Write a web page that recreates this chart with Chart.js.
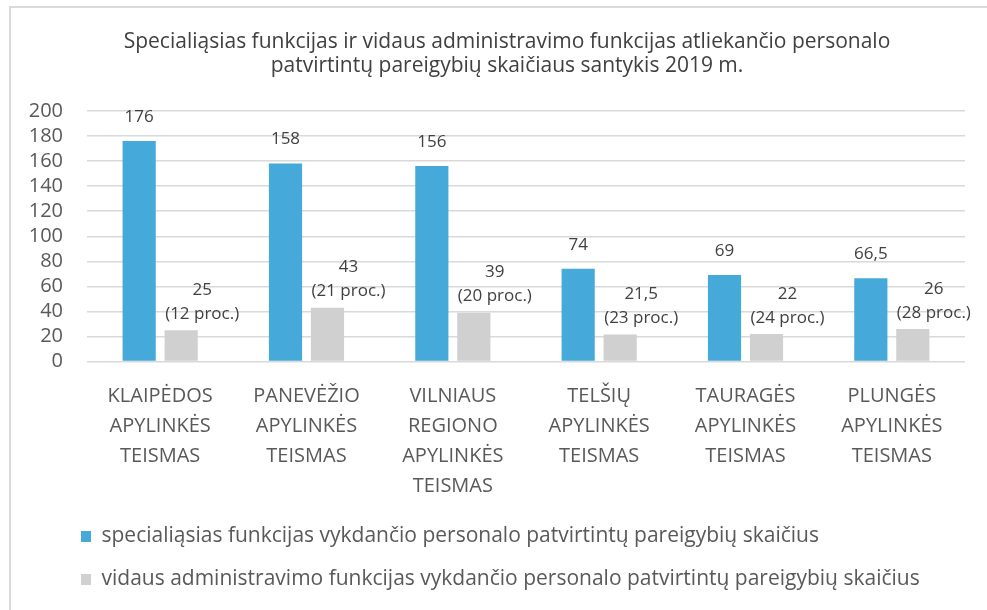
<!DOCTYPE html>
<html>
<head>
<meta charset="utf-8">
<script src="https://cdn.jsdelivr.net/npm/chart.js@4.4.1/dist/chart.umd.min.js"></script>
<style>
    body { margin: 0; background: #ffffff; }
    #wrap { position: relative; width: 987px; height: 610px; overflow: hidden; }
    #frame {
        position: absolute; left: 9px; top: 6px; width: 1000px; height: 700px;
        border-left: 2px solid #d9d9d9; border-top: 2px solid #d9d9d9;
    }
    #chart { position: absolute; left: 0; top: 0; }
</style>
</head>
<body>
<div id="wrap">
    <div id="frame"></div>
    <canvas id="chart" width="987" height="610"></canvas>
</div>
<script>
const courts = [
    ["KLAIPĖDOS", "APYLINKĖS", "TEISMAS"],
    ["PANEVĖŽIO", "APYLINKĖS", "TEISMAS"],
    ["VILNIAUS", "REGIONO", "APYLINKĖS", "TEISMAS"],
    ["TELŠIŲ", "APYLINKĖS", "TEISMAS"],
    ["TAURAGĖS", "APYLINKĖS", "TEISMAS"],
    ["PLUNGĖS", "APYLINKĖS", "TEISMAS"]
];
const specialValues = [176, 158, 156, 74, 69, 66.5];
const adminValues   = [25, 43, 39, 21.5, 22, 26];
const adminShare    = [12, 21, 20, 23, 24, 28];

const titleLines = [
    "Specialiąsias funkcijas ir vidaus administravimo funkcijas atliekančio personalo",
    "patvirtintų pareigybių skaičiaus santykis 2019 m."
];
const seriesNames = [
    "specialiąsias funkcijas vykdančio personalo patvirtintų pareigybių skaičius",
    "vidaus administravimo funkcijas vykdančio personalo patvirtintų pareigybių skaičius"
];

const fontName  = "'Open Sans'";
const textColor = "#595959";

// numbers with a comma, like in the original
function fmt(v)
{
    return String(v).replace(".", ",");
}

const valueLabels = {
    id: "valueLabels",
    afterDatasetsDraw(chart)
    {
        const ctx = chart.ctx;
        ctx.save();
        ctx.fillStyle = "#404040";
        ctx.textAlign = "center";
        ctx.textBaseline = "middle";
        ctx.font = "17px " + fontName;

        chart.getDatasetMeta(0).data.forEach((bar, i) => {
            ctx.fillText(fmt(specialValues[i]), bar.x, bar.y - 24);
        });

        chart.getDatasetMeta(1).data.forEach((bar, i) => {
            ctx.fillText(fmt(adminValues[i]), bar.x + 21, bar.y - 40);
            ctx.fillText("(" + adminShare[i] + " proc.)", bar.x + 21, bar.y - 16);
        });
        ctx.restore();
    }
};

// move the legend and title a bit so they sit like in the picture
const boxShift = {
    id: "boxShift",
    afterLayout(chart)
    {
        chart.legend.left = 59;
        chart.legend.right = 987;
        chart.titleBlock.left = 49;
        chart.titleBlock.right = 965;
    }
};

new Chart(document.getElementById("chart"), {
    type: "bar",
    data: {
        labels: courts,
        datasets: [
            {
                label: seriesNames[0],
                data: specialValues,
                backgroundColor: "#45a9da"
            },
            {
                label: seriesNames[1],
                data: adminValues,
                backgroundColor: "#d0d0d0"
            }
        ]
    },
    options: {
        responsive: false,
        animation: false,
        categoryPercentage: 0.574,
        barPercentage: 0.79,
        layout: {
            padding: { left: 28, right: 22, top: 0, bottom: 10 }
        },
        plugins: {
            title: {
                display: true,
                text: titleLines,
                color: "#404040",
                font: { family: fontName, size: 21, weight: "normal", lineHeight: "24px" },
                padding: { top: 30, bottom: 33 }
            },
            legend: {
                position: "bottom",
                align: "start",
                labels: {
                    color: textColor,
                    boxWidth: 10,
                    boxHeight: 11,
                    padding: 22,
                    font: { family: fontName, size: 21 }
                }
            },
            tooltip: { enabled: false }
        },
        scales: {
            x: {
                grid: { display: false },
                border: { display: false },
                ticks: {
                    color: textColor,
                    autoSkip: false,
                    maxRotation: 0,
                    padding: 12,
                    font: { family: fontName, size: 20, lineHeight: "30px" }
                },
                afterFit(scale) { scale.height = 142.5; }
            },
            y: {
                min: 0,
                max: 200,
                border: { display: false },
                grid: { color: "#d9d9d9", lineWidth: 1.5, drawTicks: false },
                ticks: {
                    stepSize: 20,
                    autoSkip: false,
                    color: textColor,
                    padding: 24,
                    font: { family: fontName, size: 20, lineHeight: 1 }
                },
                afterFit(scale) { scale.width = 59; }
            }
        }
    },
    plugins: [valueLabels, boxShift]
});
</script>
</body>
</html>
